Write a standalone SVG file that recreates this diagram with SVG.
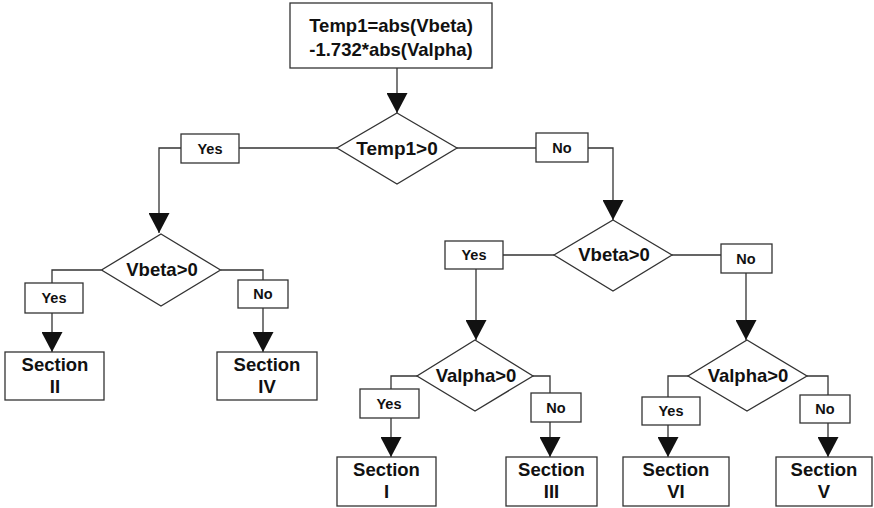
<svg xmlns="http://www.w3.org/2000/svg" width="874" height="508" viewBox="0 0 874 508">
  <style>
    .box { fill: #fff; stroke: #333; stroke-width: 1.3; }
    .dia { fill: #fff; stroke: #333; stroke-width: 1.3; }
    .wire { fill: none; stroke: #333; stroke-width: 1.3; }
    .arr { fill: none; stroke: #333; stroke-width: 1.3; marker-end: url(#head); }
    text { font-family: "Liberation Sans", Arial, sans-serif; font-weight: bold; fill: #111; text-anchor: middle; }
    .t18 { font-size: 18.5px; }
    .t19 { font-size: 19px; }
    .lbl { font-size: 14.5px; }
  </style>
  <defs>
    <marker id="head" viewBox="0 0 20 21" refX="20" refY="10.5" markerWidth="20" markerHeight="21" markerUnits="userSpaceOnUse" orient="auto">
      <path d="M0,0 L20,10.5 L0,21 z" fill="#111"/>
    </marker>
  </defs>

  <!-- connectors with their yes/no tags -->
  <g id="connectors">
    <path class="arr" d="M397,68 V113"/>
    <path class="arr" d="M337,148 H159 V233"/>
    <path class="arr" d="M457,148 H613 V220"/>
    <path class="arr" d="M101.5,270 H52 V352"/>
    <path class="arr" d="M220.5,270 H263 V352"/>
    <path class="arr" d="M554,255 H476 V340"/>
    <path class="arr" d="M672,255 H746 V340"/>
    <path class="arr" d="M417,376 H391 V457"/>
    <path class="arr" d="M533,376 H550 V457"/>
    <path class="arr" d="M688,376 H668 V457"/>
    <path class="arr" d="M807,376 H828 V457"/>

    <g id="tag-t-yes"><rect class="box" x="181" y="134" width="58" height="29"/><text class="lbl" x="210" y="154">Yes</text></g>
    <g id="tag-t-no"><rect class="box" x="536" y="133" width="52" height="29"/><text class="lbl" x="562" y="153">No</text></g>
    <g id="tag-b1-yes"><rect class="box" x="25" y="283" width="58" height="30"/><text class="lbl" x="54" y="303">Yes</text></g>
    <g id="tag-b1-no"><rect class="box" x="238" y="280" width="50" height="28"/><text class="lbl" x="263" y="299">No</text></g>
    <g id="tag-b2-yes"><rect class="box" x="445" y="241" width="58" height="28"/><text class="lbl" x="474" y="260">Yes</text></g>
    <g id="tag-b2-no"><rect class="box" x="721" y="244" width="51" height="29"/><text class="lbl" x="746" y="264">No</text></g>
    <g id="tag-a1-yes"><rect class="box" x="360" y="389" width="59" height="29"/><text class="lbl" x="389" y="409">Yes</text></g>
    <g id="tag-a1-no"><rect class="box" x="531" y="393" width="50" height="29"/><text class="lbl" x="556" y="413">No</text></g>
    <g id="tag-a2-yes"><rect class="box" x="642" y="397" width="58" height="28"/><text class="lbl" x="671" y="416">Yes</text></g>
    <g id="tag-a2-no"><rect class="box" x="800" y="395" width="50" height="28"/><text class="lbl" x="825" y="414">No</text></g>
  </g>

  <!-- start: compute Temp1 -->
  <g id="calc">
    <rect class="box" x="290" y="3" width="202" height="65"/>
    <text class="t18" x="391" y="32">Temp1=abs(Vbeta)</text>
    <text class="t18" x="391" y="56">-1.732*abs(Valpha)</text>
  </g>

  <!-- decisions -->
  <g id="d-temp1">
    <polygon class="dia" points="397,113 457,148 397,184 337,148"/>
    <text class="t19" x="397" y="155">Temp1&gt;0</text>
  </g>
  <g id="d-vbeta-left">
    <polygon class="dia" points="161,234 220.5,270 161,306 101.5,270"/>
    <text class="t18" x="162" y="276">Vbeta&gt;0</text>
  </g>
  <g id="d-vbeta-right">
    <polygon class="dia" points="613,220 672,255 613,291 554,255"/>
    <text class="t18" x="614" y="261">Vbeta&gt;0</text>
  </g>
  <g id="d-valpha-left">
    <polygon class="dia" points="475,340 533,376 475,411 417,376"/>
    <text class="t18" x="476" y="382">Valpha&gt;0</text>
  </g>
  <g id="d-valpha-right">
    <polygon class="dia" points="747,340 807,376 747,411 688,376"/>
    <text class="t18" x="748" y="382">Valpha&gt;0</text>
  </g>

  <!-- resulting sectors -->
  <g id="s-ii">
    <rect class="box" x="5" y="352" width="99" height="48"/>
    <text class="t18" x="55" y="371">Section</text>
    <text class="t18" x="55" y="393">II</text>
  </g>
  <g id="s-iv">
    <rect class="box" x="217" y="352" width="100" height="48"/>
    <text class="t18" x="267" y="371">Section</text>
    <text class="t18" x="267" y="393">IV</text>
  </g>
  <g id="s-i">
    <rect class="box" x="337" y="457" width="99" height="49"/>
    <text class="t18" x="386.5" y="476">Section</text>
    <text class="t18" x="386.5" y="498">I</text>
  </g>
  <g id="s-iii">
    <rect class="box" x="506" y="457" width="91" height="49"/>
    <text class="t18" x="551.5" y="476">Section</text>
    <text class="t18" x="551.5" y="498">III</text>
  </g>
  <g id="s-vi">
    <rect class="box" x="623" y="457" width="106" height="49"/>
    <text class="t18" x="676" y="476">Section</text>
    <text class="t18" x="676" y="498">VI</text>
  </g>
  <g id="s-v">
    <rect class="box" x="776" y="457" width="96" height="49"/>
    <text class="t18" x="824" y="476">Section</text>
    <text class="t18" x="824" y="498">V</text>
  </g>
</svg>
